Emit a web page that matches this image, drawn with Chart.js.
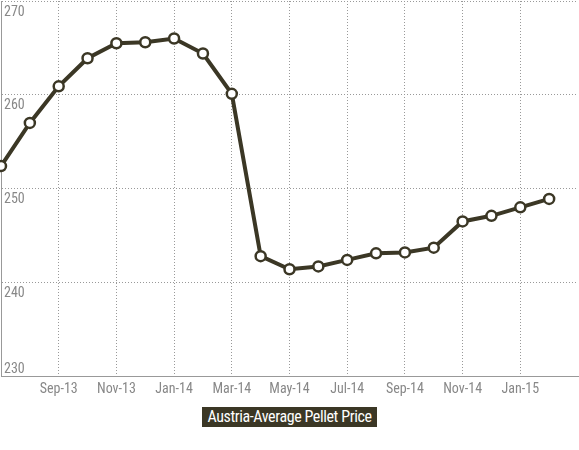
<!DOCTYPE html>
<html>
<head>
<meta charset="utf-8">
<script src="https://cdn.jsdelivr.net/npm/chart.js@4/dist/chart.umd.min.js"></script>
<style>
  body { margin: 0; background: #fff; }
  #wrap { width: 579px; height: 403px; position: relative; }
  #caption {
    text-align: center;
    margin-top: 4px;
  }
  #caption span {
    display: inline-block;
    background: #3b3725;
    color: #fff;
    font: 16px "Roboto Condensed", sans-serif;
    letter-spacing: -0.4px;
    line-height: 20px;
    padding: 0 5px;
  }
</style>
</head>
<body>
<div id="wrap"><canvas id="chart"></canvas></div>
<div id="caption"><span>Austria-Average Pellet Price</span></div>
<script>
// months on the x axis, last slot is empty (room on the right)
const months = [
  "Jul-13", "Aug-13", "Sep-13", "Oct-13", "Nov-13", "Dec-13",
  "Jan-14", "Feb-14", "Mar-14", "Apr-14", "May-14", "Jun-14",
  "Jul-14", "Aug-14", "Sep-14", "Oct-14", "Nov-14", "Dec-14",
  "Jan-15", "Feb-15", "Mar-15",
];
const prices = [
  252.4, 257.0, 260.9, 263.9, 265.5, 265.6,
  266.0, 264.4, 260.1, 242.8, 241.4, 241.7,
  242.4, 243.1, 243.2, 243.7, 246.5, 247.1,
  248.0, 248.9,
];
const shownTicks = [
  "Sep-13", "Nov-13", "Jan-14", "Mar-14", "May-14",
  "Jul-14", "Sep-14", "Nov-14", "Jan-15",
];
const yTicks = [230, 240, 250, 260, 270];

const fontFamily = '"Roboto Condensed", sans-serif';
const lineColor = "#3b3725";

// y labels sit inside the plot, just under their grid line
const yLabels = {
  id: "yLabels",
  beforeDatasetsDraw(chart) {
    const ctx = chart.ctx;
    const y = chart.scales.y;
    ctx.save();
    ctx.font = "14px " + fontFamily;
    ctx.fillStyle = "#888";
    ctx.textAlign = "left";
    yTicks.forEach((v) => {
      const py = y.getPixelForValue(v);
      if (v == y.min) {
        ctx.textBaseline = "alphabetic";
        ctx.fillText(String(v), chart.chartArea.left + 3, py - 3);
      } else {
        ctx.textBaseline = "top";
        ctx.fillText(String(v), chart.chartArea.left + 3, py + 4);
      }
    });
    ctx.restore();
  },
};

new Chart(document.getElementById("chart"), {
  type: "line",
  data: {
    labels: months,
    datasets: [{
      data: prices,
      borderColor: lineColor,
      borderWidth: 4,
      pointRadius: 5,
      pointBorderWidth: 2.5,
      pointBackgroundColor: "#fff",
      pointBorderColor: lineColor,
      tension: 0,
      clip: false,
    }],
  },
  options: {
    responsive: true,
    maintainAspectRatio: false,
    animation: false,
    layout: { autoPadding: false, padding: { left: 1, right: 1, top: 1, bottom: 0 } },
    plugins: {
      legend: { display: false },
      tooltip: { enabled: false },
    },
    scales: {
      x: {
        type: "category",
        offset: false,
        // only every other month gets a tick and a grid line
        afterBuildTicks: (scale) => {
          scale.ticks = shownTicks.map((m) => ({ value: months.indexOf(m) }));
        },
        grid: { color: "#999", drawTicks: false, lineWidth: 1 },
        border: { color: "#999", width: 1, dash: [1, 2] },
        ticks: {
          autoSkip: false,
          maxRotation: 0,
          padding: 5,
          color: "#888",
          font: { family: fontFamily, size: 14 },
        },
      },
      y: {
        min: 230,
        max: 270,
        afterBuildTicks: (scale) => {
          scale.ticks = yTicks.map((v) => ({ value: v }));
        },
        grid: { color: "#999", drawTicks: false, lineWidth: 1 },
        border: { color: "#999", width: 1, dash: [1, 2] },
        ticks: { display: false },
      },
    },
  },
  plugins: [yLabels],
});
</script>
</body>
</html>
